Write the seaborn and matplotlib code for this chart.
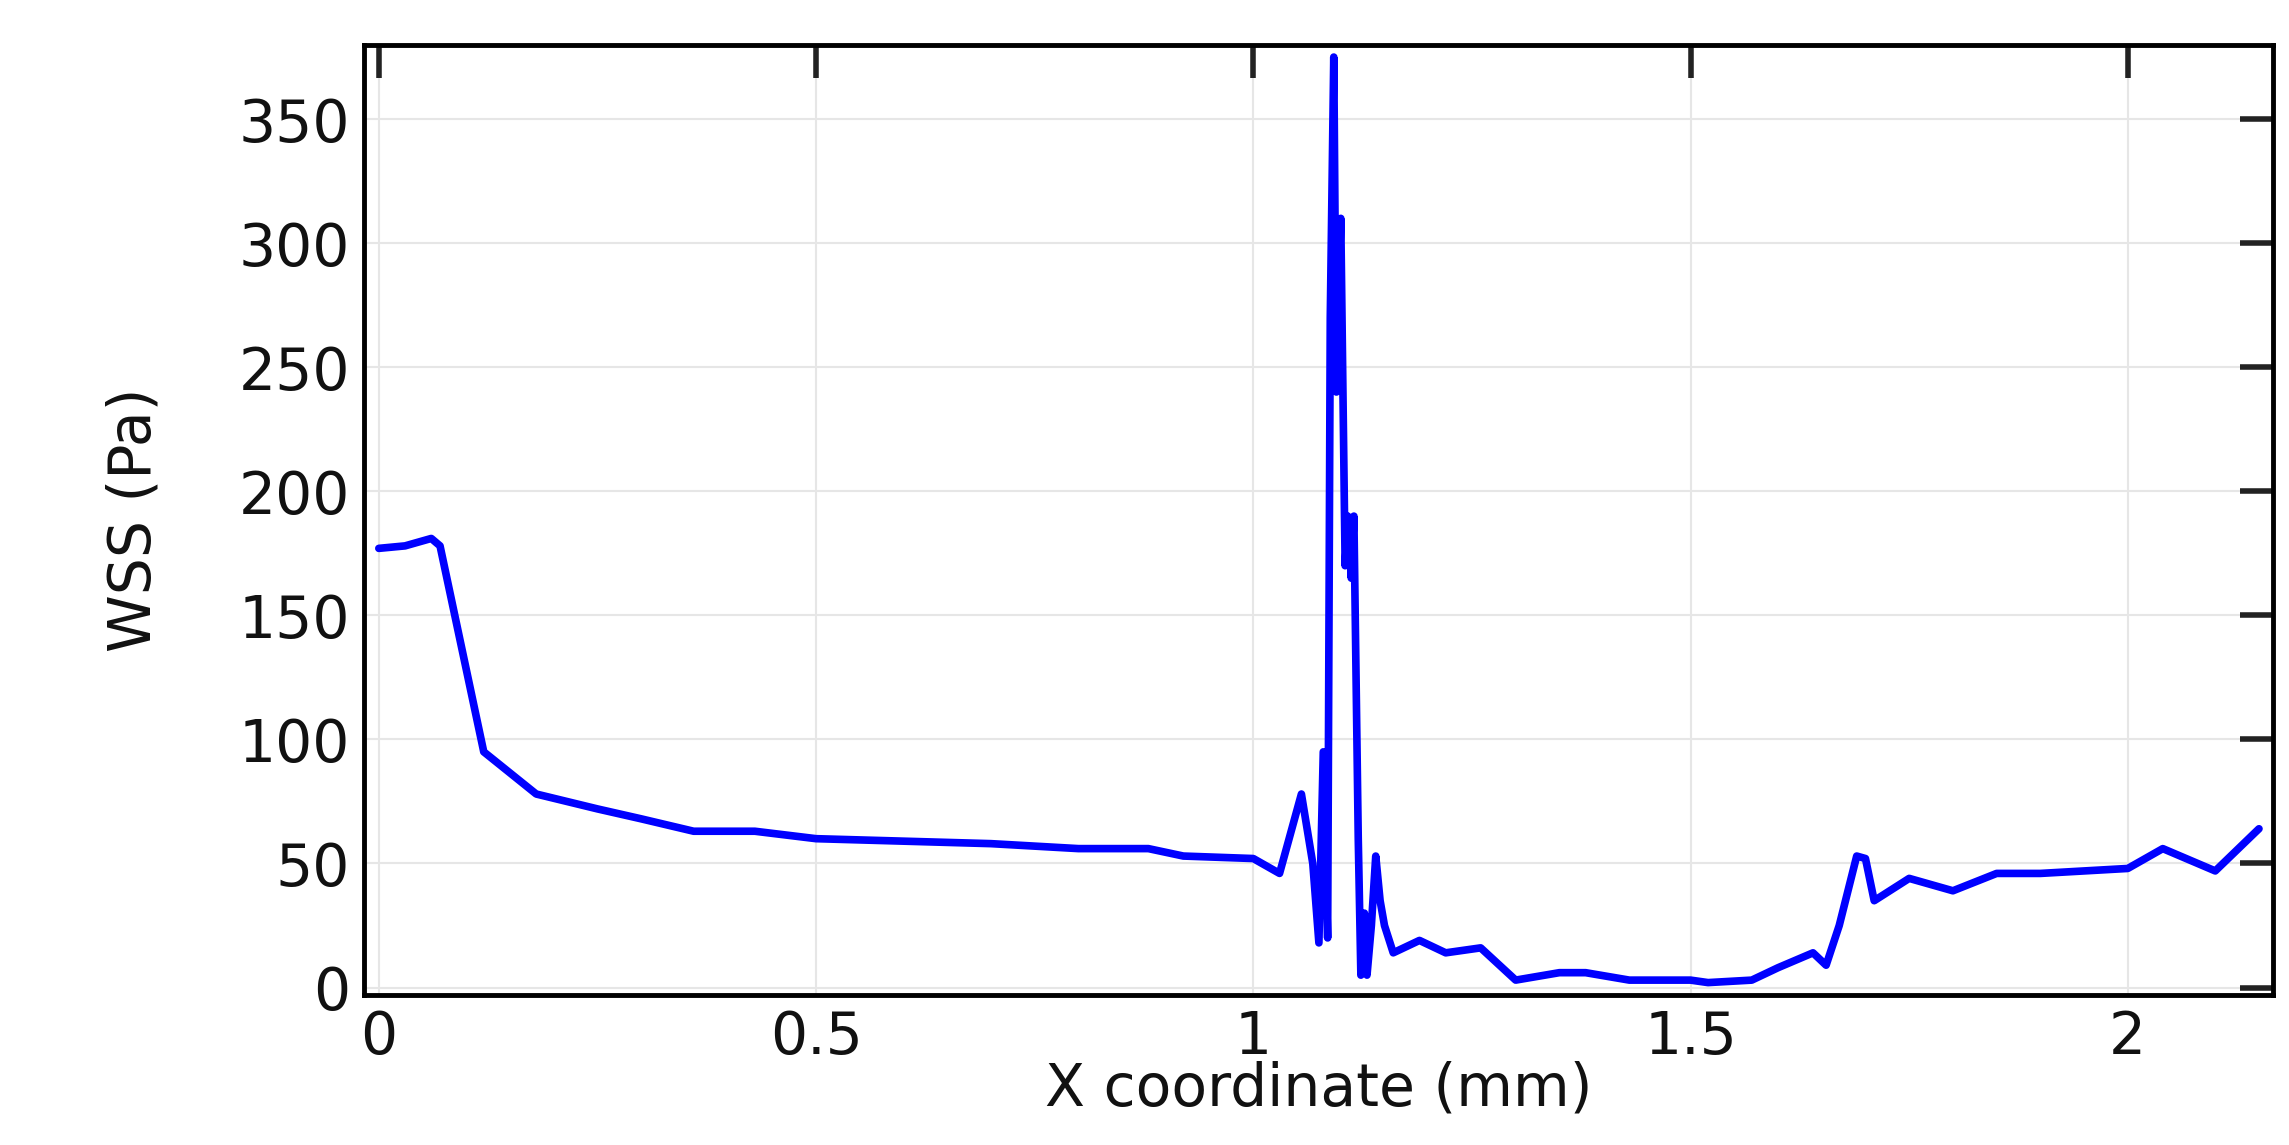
import matplotlib
matplotlib.use("Agg")
import matplotlib.pyplot as plt
import seaborn as sns
import pandas as pd

x_mm = [0.0, 0.03, 0.06, 0.07, 0.12, 0.18, 0.25, 0.3, 0.36, 0.43, 0.5, 0.6, 0.7, 0.8, 0.88,
        0.92, 1.0, 1.03, 1.055, 1.068, 1.075, 1.08, 1.085, 1.088, 1.092, 1.095, 1.1, 1.105,
        1.108, 1.112, 1.115, 1.12, 1.123, 1.127, 1.13, 1.135, 1.14, 1.145, 1.15, 1.16, 1.19,
        1.22, 1.26, 1.3, 1.35, 1.38, 1.43, 1.5, 1.52, 1.57, 1.6, 1.64, 1.655, 1.67, 1.69,
        1.7, 1.71, 1.75, 1.8, 1.85, 1.9, 1.95, 2.0, 2.04, 2.1, 2.15]
wss_pa = [177, 178, 181, 178, 95, 78, 72, 68, 63, 63, 60, 59, 58, 56, 56,
          53, 52, 46, 78, 50, 18, 95, 20, 270, 375, 240, 310, 170,
          190, 165, 190, 60, 5, 30, 5, 25, 53, 35, 25, 14, 19,
          14, 16, 3, 6, 6, 3, 3, 2, 3, 8, 14, 9, 25, 53,
          52, 35, 44, 39, 46, 46, 47, 48, 56, 47, 64]

df = pd.DataFrame({"x": x_mm, "wss": wss_pa})

sns.set_theme(style="white")
plt.rcParams['font.family'] = ['DejaVu Sans']
fig = plt.figure(figsize=(22.89, 11.45), dpi=100)
ax = fig.add_axes([0.159, 0.131, 0.834, 0.83])
sns.lineplot(data=df, x="x", y="wss", ax=ax, color="#0000ff", linewidth=5.5, sort=False)
ax.set_xlim(-0.017, 2.166)
ax.set_ylim(-3, 380)
ax.set_xticks([0, 0.5, 1, 1.5, 2])
ax.set_xticklabels(["0", "0.5", "1", "1.5", "2"])
ax.set_yticks(range(0, 351, 50))
ax.grid(True, color="#e6e6e6", linewidth=1.5)
ax.tick_params(direction="in", length=24, width=4, labelsize=42, top=True, right=True,
               color="#222222", labelcolor="#111111", pad=10)
for s in ax.spines.values():
    s.set_linewidth(3.5)
    s.set_color("black")
ax.set_xlabel("X coordinate (mm)", fontsize=42, labelpad=-4, color="#111111")
ax.set_ylabel("WSS (Pa)", fontsize=42, labelpad=55, color="#111111")
fig.savefig("out.png", dpi=100)
